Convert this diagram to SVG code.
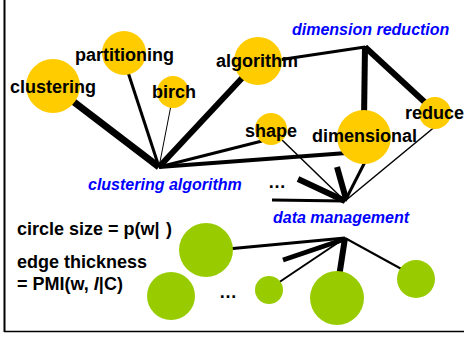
<svg xmlns="http://www.w3.org/2000/svg" width="464" height="337" viewBox="0 0 464 337">
<style>
.e{stroke:#000;fill:none;stroke-linecap:butt}
.y{fill:#FFCC00}
.g{fill:#99CC00}
.l{font-family:"Liberation Sans",Arial,sans-serif;font-weight:bold;font-size:18px;fill:#000}
.b{font-family:"Liberation Sans",Arial,sans-serif;font-weight:bold;font-style:italic;font-size:16px;fill:#0000FF}
</style>
<rect width="464" height="337" fill="#fff"/>
<g id="frame" stroke="#000" fill="none">
<line x1="4.5" y1="0" x2="4.5" y2="332" stroke-width="2"/>
<line x1="4" y1="331.5" x2="464" y2="331.5" stroke-width="1.5"/>
</g>
<g id="connectors">
<line class="e" x1="159" y1="167" x2="53" y2="86" stroke-width="7"/>
<line class="e" x1="159" y1="167" x2="124" y2="60" stroke-width="3"/>
<line class="e" x1="159" y1="167" x2="173" y2="95" stroke-width="1"/>
<line class="e" x1="159" y1="167" x2="258" y2="61" stroke-width="6"/>
<line class="e" x1="159" y1="167" x2="262" y2="141" stroke-width="3"/>
<line class="e" x1="159" y1="167" x2="360" y2="152" stroke-width="4"/>
<line class="e" x1="365" y1="47" x2="258" y2="63" stroke-width="3"/>
<line class="e" x1="365" y1="46" x2="364" y2="120" stroke-width="6"/>
<line class="e" x1="365" y1="47" x2="430" y2="107" stroke-width="6"/>
<line class="e" x1="281" y1="139" x2="345" y2="201" stroke-width="1.5"/>
<line class="e" x1="367" y1="158" x2="345" y2="201" stroke-width="3"/>
<line class="e" x1="437" y1="125" x2="345" y2="201" stroke-width="1.5"/>
<line class="e" x1="298" y1="179" x2="345" y2="201" stroke-width="6"/>
<line class="e" x1="337" y1="167" x2="346" y2="199" stroke-width="6"/>
<line class="e" x1="272" y1="200" x2="345" y2="201" stroke-width="3"/>
<line class="e" x1="206" y1="251" x2="345" y2="238" stroke-width="3"/>
<line class="e" x1="283" y1="260" x2="342" y2="240" stroke-width="5"/>
<line class="e" x1="269" y1="289" x2="345" y2="238" stroke-width="2"/>
<line class="e" x1="337" y1="290" x2="345" y2="238" stroke-width="6"/>
<line class="e" x1="416" y1="277" x2="345" y2="238" stroke-width="2"/>
</g>
<g id="n-clustering"><circle class="y" cx="53" cy="86" r="27"/><text class="l" x="10" y="93">clustering</text></g>
<g id="n-partitioning"><circle class="y" cx="124" cy="53" r="22"/><text class="l" x="75" y="61">partitioning</text></g>
<g id="n-birch"><circle class="y" cx="173" cy="92" r="16"/><text class="l" x="152" y="98">birch</text></g>
<g id="n-algorithm"><circle class="y" cx="258" cy="61" r="24"/><text class="l" x="216" y="67">algorithm</text></g>
<g id="n-shape"><circle class="y" cx="271" cy="129" r="16"/><text class="l" x="245" y="137">shape</text></g>
<g id="n-dimensional"><circle class="y" cx="364" cy="137" r="27"/><text class="l" x="312" y="142">dimensional</text></g>
<g id="n-reduce"><circle class="y" cx="435" cy="113" r="16"/><text class="l" x="405" y="119">reduce</text></g>
<g id="h-clustering-algorithm"><text class="b" x="88" y="190">clustering algorithm</text></g>
<g id="h-dimension-reduction"><text class="b" x="292" y="35">dimension reduction</text></g>
<g id="h-data-management"><text class="b" x="273" y="223">data management</text></g>
<g id="dots-top"><text class="l" x="268" y="188">…</text></g>
<g id="g1"><circle class="g" cx="206" cy="250" r="27"/></g>
<g id="g2"><circle class="g" cx="171" cy="296" r="24"/></g>
<g id="g3"><circle class="g" cx="269" cy="290" r="14"/></g>
<g id="g4"><circle class="g" cx="337" cy="298" r="27"/></g>
<g id="g5"><circle class="g" cx="416" cy="279" r="19"/></g>
<g id="dots-bottom"><text class="l" x="219" y="298">…</text></g>
<g id="legend">
<text class="l" x="17" y="235">circle size = p(w|<tspan x="166">)</tspan></text>
<text class="l" x="17" y="268">edge thickness</text>
<text class="l" x="17" y="290">= PMI(w, <tspan font-style="italic">l</tspan>|C)</text>
</g>
</svg>
